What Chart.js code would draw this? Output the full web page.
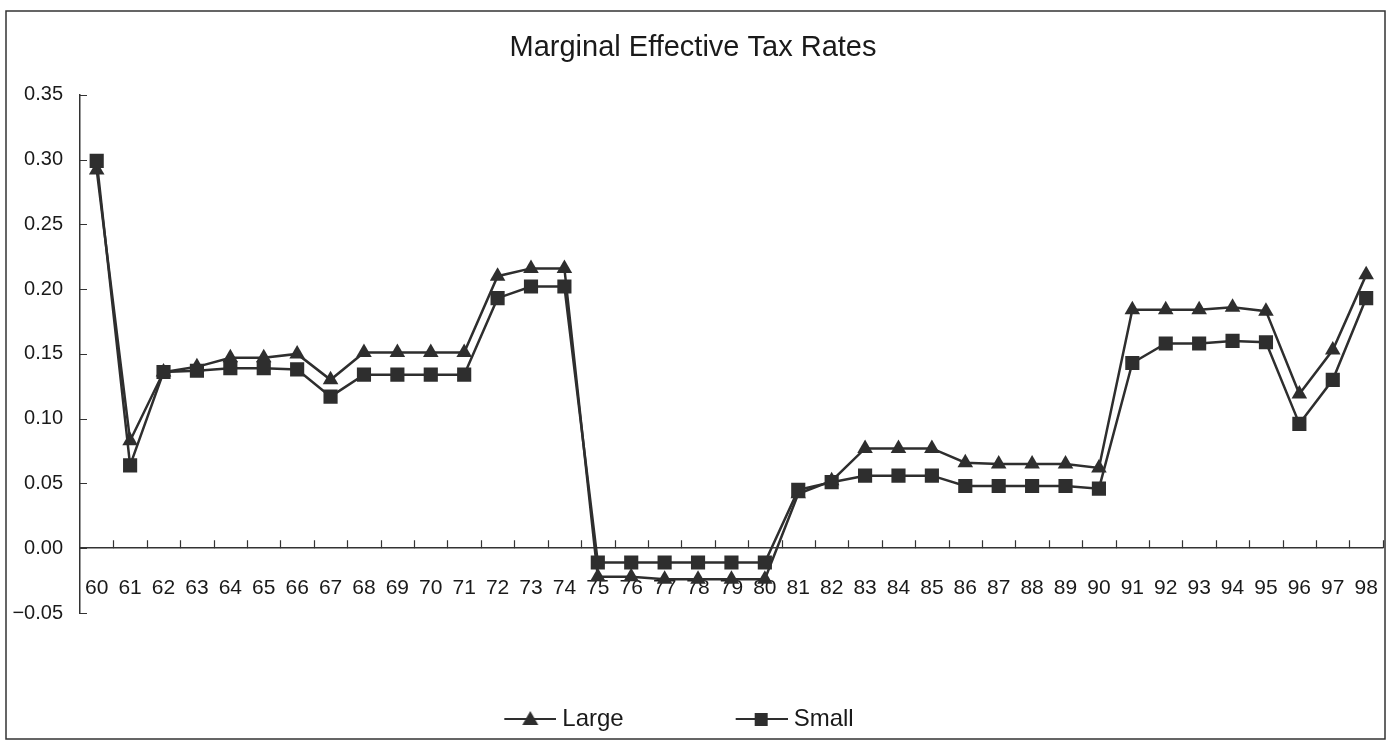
<!DOCTYPE html>
<html>
<head>
<meta charset="utf-8">
<title>Marginal Effective Tax Rates</title>
<script src="https://cdn.jsdelivr.net/npm/chart.js@4.4.0/dist/chart.umd.min.js"></script>
<style>
  html, body { margin: 0; padding: 0; background: #fff; }
  #wrap { width: 1397px; height: 742px; }
</style>
</head>
<body>
<div id="wrap"><canvas id="metrChart"></canvas></div>
<script>
// years (two digit) on the x axis
const years = ['60','61','62','63','64','65','66','67','68','69','70','71','72','73','74','75','76','77','78','79',
  '80','81','82','83','84','85','86','87','88','89','90','91','92','93','94','95','96','97','98'];

// rates
const largeRates = [0.292, 0.083, 0.136, 0.140, 0.147, 0.147, 0.150, 0.130, 0.151, 0.151, 0.151, 0.151, 0.210, 0.216, 0.216,
  -0.022, -0.022, -0.024, -0.024, -0.024, -0.024, 0.042, 0.052, 0.077, 0.077, 0.077, 0.066, 0.065, 0.065, 0.065, 0.062,
  0.184, 0.184, 0.184, 0.186, 0.183, 0.119, 0.153, 0.211];
const smallRates = [0.299, 0.064, 0.136, 0.137, 0.139, 0.139, 0.138, 0.117, 0.134, 0.134, 0.134, 0.134, 0.193, 0.202, 0.202,
  -0.011, -0.011, -0.011, -0.011, -0.011, -0.011, 0.045, 0.051, 0.056, 0.056, 0.056, 0.048, 0.048, 0.048, 0.048, 0.046,
  0.143, 0.158, 0.158, 0.160, 0.159, 0.096, 0.130, 0.193];

const yTickValues = [-0.05, 0, 0.05, 0.10, 0.15, 0.20, 0.25, 0.30, 0.35];

const ink = '#2e2e2e';
const fontFamily = '"Liberation Sans", Arial, sans-serif';

// legend swatch: short line with the marker on it (a bit wider than the box so the line runs up to the text)
const makeSwatch = (style) => {
  const c = document.createElement('canvas');
  c.width = 76; c.height = 20;
  const g = c.getContext('2d');
  g.strokeStyle = ink; g.lineWidth = 2;
  g.beginPath(); g.moveTo(24, 10); g.lineTo(76, 10); g.stroke();
  g.fillStyle = ink;
  if (style === 'triangle') {
    g.beginPath(); g.moveTo(50, 2); g.lineTo(58, 16); g.lineTo(42, 16); g.closePath(); g.fill();
  } else {
    g.fillRect(43, 4, 13, 13);
  }
  return c;
};
const swatches = [makeSwatch('triangle'), makeSwatch('rect')];

// frame round the whole chart and inside tick marks
const framePlugin = {
  id: 'frame',
  afterLayout(chart) {
    // legend sits a little left of centre in the original
    if (chart.legend) {
      chart.legend.left -= 23;
      chart.legend.right -= 23;
    }
  },
  beforeDraw(chart) {
    const { ctx } = chart;
    ctx.save();
    ctx.fillStyle = '#fff';
    ctx.fillRect(0, 0, chart.width, chart.height);
    ctx.restore();
  },
  afterDraw(chart) {
    const { ctx, chartArea } = chart;
    const y = chart.scales.y;
    ctx.save();
    ctx.strokeStyle = '#333';
    ctx.lineWidth = 1.5;
    ctx.strokeRect(6, 11, 1379, 728);

    ctx.lineWidth = 1.2;
    ctx.beginPath();
    y.ticks.forEach(t => {
      const py = Math.round(y.getPixelForValue(t.value)) + 0.5;
      ctx.moveTo(chartArea.left, py);
      ctx.lineTo(chartArea.left + 7, py);
    });
    const y0 = y.getPixelForValue(0);
    const step = (chartArea.right - chartArea.left) / years.length;
    for (let i = 1; i <= years.length; i++) {
      const px = Math.round(chartArea.left + i * step) + 0.5;
      ctx.moveTo(px, y0);
      ctx.lineTo(px, y0 - 8);
    }
    ctx.stroke();
    ctx.restore();
  }
};

new Chart(document.getElementById('metrChart'), {
  type: 'line',
  data: {
    labels: years,
    datasets: [
      {
        label: 'Large',
        data: largeRates,
        borderColor: ink,
        backgroundColor: ink,
        borderWidth: 2.5,
        pointStyle: 'triangle',
        pointRadius: 9,
        pointBorderWidth: 0,
        tension: 0,
        order: 1
      },
      {
        label: 'Small',
        data: smallRates,
        borderColor: ink,
        backgroundColor: ink,
        borderWidth: 2.5,
        pointStyle: 'rect',
        pointRadius: 10,
        pointBorderWidth: 0,
        tension: 0,
        order: 0
      }
    ]
  },
  options: {
    responsive: true,
    maintainAspectRatio: false,
    animation: false,
    layout: { padding: { left: 0, right: 11, top: 0, bottom: 1 } },
    scales: {
      x: {
        type: 'category',
        position: { y: 0 },
        offset: true,
        grid: { display: false },
        border: { display: true, color: '#333', width: 1.5 },
        ticks: {
          color: '#1a1a1a',
          padding: 19,
          maxRotation: 0,
          autoSkip: false,
          font: { family: fontFamily, size: 21 }
        }
      },
      y: {
        type: 'linear',
        min: -0.05,
        max: 0.35,
        afterBuildTicks(scale) { scale.ticks = yTickValues.map(v => ({ value: v })); },
        afterFit(scale) { scale.width = 80; },
        grid: { display: false },
        border: { display: true, color: '#333', width: 1.5 },
        ticks: {
          color: '#1a1a1a',
          padding: 9,
          font: { family: fontFamily, size: 20 },
          callback: v => v.toFixed(2).replace('-', '\u2212')
        }
      }
    },
    plugins: {
      title: {
        display: true,
        text: 'Marginal Effective Tax Rates',
        color: '#1a1a1a',
        font: { family: fontFamily, size: 29, weight: 'normal' },
        padding: { top: 31, bottom: 29 }
      },
      legend: {
        position: 'bottom',
        labels: {
          usePointStyle: true,
          pointStyleWidth: 64,
          padding: 94,
          color: '#1a1a1a',
          font: { family: fontFamily, size: 24 },
          sort: (a, b) => a.datasetIndex - b.datasetIndex,
          generateLabels(chart) {
            const items = Chart.defaults.plugins.legend.labels.generateLabels(chart);
            items.forEach(it => { it.pointStyle = swatches[it.datasetIndex]; });
            return items;
          }
        }
      },
      tooltip: { enabled: false }
    }
  },
  plugins: [framePlugin]
});
</script>
</body>
</html>
